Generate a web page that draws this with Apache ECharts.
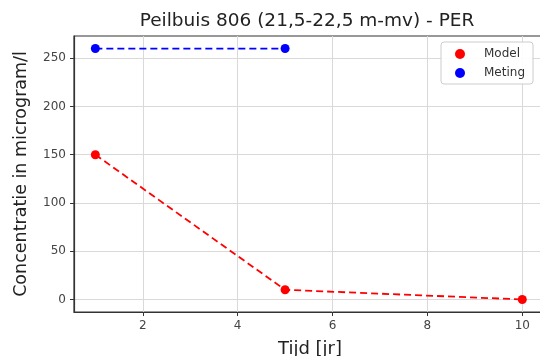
<!DOCTYPE html>
<html>
<head>
<meta charset="utf-8">
<script src="https://cdn.jsdelivr.net/npm/echarts@6/dist/echarts.min.js"></script>
<style>
    html, body { margin: 0; padding: 0; background: #fff; }
    #chart { width: 540px; height: 356px; }
</style>
</head>
<body>
<div id="chart"></div>
<script>
    var modelYears = [1, 5, 10];
    var modelValues = [150, 10, 0];
    var metingYears = [1, 5];
    var metingValues = [260, 260];
    var xTicks = [2, 4, 6, 8, 10];
    var yTicks = [0, 50, 100, 150, 200, 250];

    function pairs(xs, ys) {
        var out = [];
        for (var i = 0; i < xs.length; i++) {
            out.push([xs[i], ys[i]]);
        }
        return out;
    }

    var axisFont = 'DejaVu Sans';
    var lineColor = '#333';

    var chart = echarts.init(document.getElementById('chart'), null, { renderer: 'canvas' });

    chart.setOption({
        animation: false,
        title: {
            text: 'Peilbuis 806 (21,5-22,5 m-mv) - PER',
            left: 302,
            textAlign: 'center',
            top: 7,
            textStyle: { fontFamily: axisFont, fontWeight: 'normal', fontSize: 18.5, color: '#222' }
        },
        legend: {
            right: 7,
            top: 42,
            orient: 'vertical',
            itemWidth: 10,
            itemHeight: 10,
            itemGap: 7,
            padding: [6, 8, 5, 14],
            borderColor: '#ccc',
            borderWidth: 1,
            borderRadius: 3,
            backgroundColor: 'rgba(255,255,255,0.9)',
            textStyle: { fontFamily: axisFont, fontSize: 12, color: '#333', padding: [0, 0, 0, 14] },
            data: [
                { name: 'Model', icon: 'circle' },
                { name: 'Meting', icon: 'circle' }
            ]
        },
        grid: {
            left: 74,
            right: -6,
            top: 36,
            bottom: 44,
            outerBoundsMode: 'none',
            show: true,
            borderColor: lineColor,
            borderWidth: 1.2
        },
        xAxis: {
            type: 'value',
            min: 0.55,
            max: 10.5,
            name: 'Tijd [jr]',
            nameLocation: 'middle',
            nameGap: 28,
            nameTextStyle: { fontFamily: axisFont, fontSize: 18, color: '#222' },
            axisLine: { show: true, onZero: false, lineStyle: { color: lineColor, width: 1.2 } },
            axisTick: { show: true, customValues: xTicks, length: 4, lineStyle: { color: lineColor } },
            axisLabel: { customValues: xTicks, fontFamily: axisFont, fontSize: 12, color: '#444', margin: 8 },
            splitLine: { show: true, lineStyle: { color: '#d9d9d9', width: 1 } }
        },
        yAxis: {
            type: 'value',
            min: -13,
            max: 273,
            name: 'Concentratie in microgram/l',
            nameLocation: 'middle',
            nameGap: 44,
            nameTextStyle: { fontFamily: axisFont, fontSize: 17.5, color: '#222' },
            axisLine: { show: true, onZero: false, lineStyle: { color: lineColor, width: 1.2 } },
            axisTick: { show: true, customValues: yTicks, length: 4, lineStyle: { color: lineColor } },
            axisLabel: { customValues: yTicks, fontFamily: axisFont, fontSize: 12, color: '#444', margin: 8 },
            splitLine: { show: true, lineStyle: { color: '#d9d9d9', width: 1 } }
        },
        series: [
            {
                name: 'Model',
                type: 'line',
                data: pairs(modelYears, modelValues),
                symbol: 'circle',
                symbolSize: 9,
                itemStyle: { color: '#ff0000' },
                lineStyle: { color: '#ff0000', type: [7, 4], width: 1.8 }
            },
            {
                name: 'Meting',
                type: 'line',
                data: pairs(metingYears, metingValues),
                symbol: 'circle',
                symbolSize: 9,
                itemStyle: { color: '#0000ff' },
                lineStyle: { color: '#0000ff', type: [7, 4], width: 1.8 }
            }
        ]
    });
</script>
</body>
</html>
